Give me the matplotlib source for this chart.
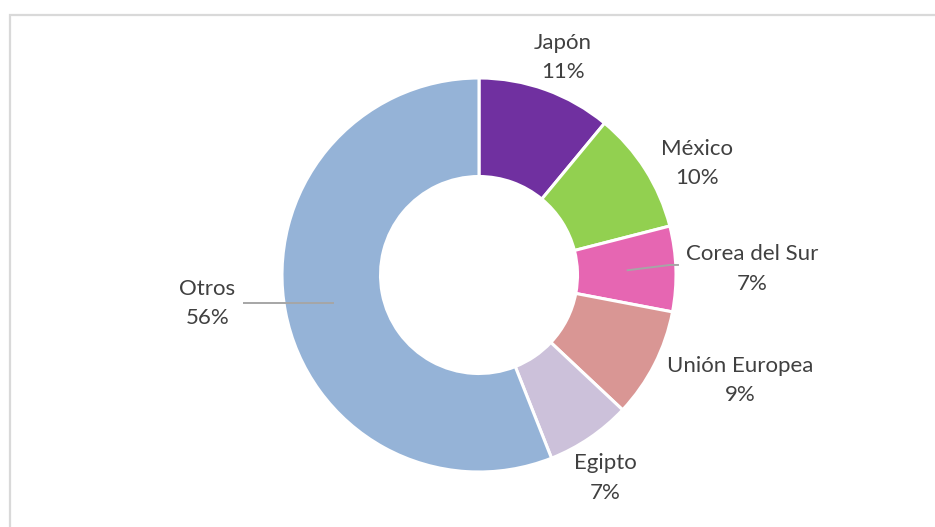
import matplotlib.pyplot as plt
import matplotlib.patches as mpatches
import numpy as np

plt.rcParams['font.family'] = ['Lato', 'DejaVu Sans']

# shares by destination, clockwise from the top
paises = ["Japón", "México", "Corea del Sur", "Unión Europea", "Egipto", "Otros"]
porcentajes = [11, 10, 7, 9, 7, 56]
colores = ["#7030A0", "#92D050", "#E666B2", "#D99694", "#CCC1DA", "#95B3D7"]

# label anchors (x centre, baseline of the name) in axes data units
pos_etiquetas = [(0.424, 1.147), (1.109, 0.609), (1.388, 0.074),
                 (1.325, -0.490), (0.642, -0.987), (-1.378, -0.102)]
salto_linea = 0.148

# leader lines: index of slice -> x of the points on the label side
# (None for y keeps the line level with its start)
guias = {2: [(0.970, 0.051), (1.015, 0.051)],
         5: [(-1.198, None)]}

color_texto = "#404040"
color_guia = "#A6A6A6"

fig = plt.figure(figsize=(9.35, 5.27), dpi=100)
ax = fig.add_axes([0, 0, 1, 1])

ax.pie(porcentajes, colors=colores, startangle=90, counterclock=False,
       radius=1.0, wedgeprops=dict(width=0.5, edgecolor="white", linewidth=2.2))

ax.set_xlim(-479 / 197, (935 - 479) / 197)
ax.set_ylim(-(527 - 275) / 197, 275 / 197)
ax.set_aspect("auto")
ax.axis("off")

# labels: name on the first line, percentage below
for pais, pct, (x, y) in zip(paises, porcentajes, pos_etiquetas):
    ax.text(x, y, pais, ha="center", va="baseline", fontsize=16, color=color_texto)
    ax.text(x, y - salto_linea, "{0}%".format(pct), ha="center", va="baseline",
            fontsize=16, color=color_texto)

# leader lines start at the middle of the ring for their slice
acumulado = np.cumsum([0] + porcentajes[:-1])
for i, puntos in guias.items():
    medio = (acumulado[i] + porcentajes[i] / 2) / sum(porcentajes) * 2 * np.pi
    x0, y0 = 0.75 * np.sin(medio), 0.75 * np.cos(medio)
    xs = [x0] + [p[0] for p in puntos]
    ys = [y0] + [y0 if p[1] is None else p[1] for p in puntos]
    ax.plot(xs, ys, color=color_guia, linewidth=1.4, solid_capstyle="butt")

# chart area border (runs off the right and bottom edges)
borde = mpatches.Rectangle((10 / 935, -0.1), 1.2, (527 - 15) / 527 + 0.1,
                           transform=fig.transFigure, fill=False,
                           edgecolor="#D9D9D9", linewidth=1.6, clip_on=False)
fig.patches.append(borde)

fig.savefig("out.png", dpi=100, facecolor="white")
